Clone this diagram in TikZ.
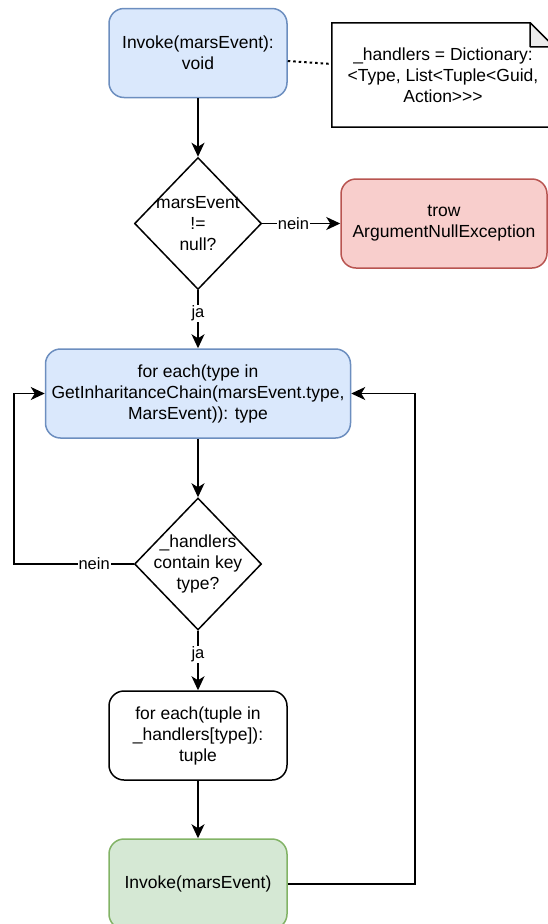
\documentclass[tikz,border=0pt]{standalone}
\usepackage{fontspec}
\setmainfont{Liberation Sans}
\usetikzlibrary{shapes.geometric,arrows.meta}

\definecolor{blueFill}{HTML}{DAE8FC}
\definecolor{blueLine}{HTML}{6C8EBF}
\definecolor{redFill}{HTML}{F8CECC}
\definecolor{redLine}{HTML}{B85450}
\definecolor{greenFill}{HTML}{D5E8D4}
\definecolor{greenLine}{HTML}{82B366}
\definecolor{foldFill}{HTML}{EBEBEB}

\tikzset{
  txt/.style={font=\fontsize{17.5}{21}\selectfont, align=center},
  procbox/.style={txt, rectangle, rounded corners=15pt, draw=black, fill=white,
                  line width=1.5pt, inner sep=0pt, minimum width=178pt, minimum height=89pt},
  bluebox/.style={procbox, draw=blueLine, fill=blueFill},
  redbox/.style={procbox, draw=redLine, fill=redFill},
  greenbox/.style={procbox, draw=greenLine, fill=greenFill},
  decision/.style={diamond, draw=black, line width=1.5pt, fill=white, inner sep=0pt,
                   minimum width=127pt, minimum height=132pt},
  flow/.style={line width=1.5pt, -{Stealth[length=14pt,width=13pt,inset=4pt]}},
  edgelbl/.style={font=\fontsize{16.5}{19}\selectfont, fill=white, inner sep=1pt},
}

\begin{document}
\begin{tikzpicture}[x=1pt,y=-1pt]
  \useasboundingbox (0,0) rectangle (548,924);

  % nodes
  \node[bluebox] (start) at (198,53) {Invoke(marsEvent):\\void};
  \node[minimum width=222pt, minimum height=104pt, inner sep=0pt] (note) at (443,75) {};
  \node[decision, label={[txt]center:marsEvent\\!=\\null?}] (d1) at (198,223.5) {};
  \node[redbox, minimum width=206pt] (err) at (444,223.5) {trow\\ArgumentNullException};
  \node[bluebox, minimum width=305pt] (loop) at (198,393.5)
    {for each(type in\\GetInharitanceChain(marsEvent.type,\\MarsEvent)): type};
  \node[decision, label={[txt]center:\_handlers\\contain key\\type?}] (d2) at (198,564) {};
  \node[procbox] (inner) at (198,735.5) {for each(tuple in\\\_handlers[type]):\\tuple};
  \node[greenbox, minimum height=90pt] (act) at (198,884) {Invoke(marsEvent)};

  % note outline with folded corner (shifts are in page direction: negative = down)
  \draw[line width=1.5pt, fill=white]
    (note.north west) -- ([xshift=-24pt]note.north east) -- ([yshift=-24pt]note.north east)
    -- (note.south east) -- (note.south west) -- cycle;
  \draw[line width=1.5pt, fill=foldFill, line join=round]
    ([xshift=-24pt]note.north east) -- ([xshift=-24pt,yshift=-24pt]note.north east)
    -- ([yshift=-24pt]note.north east) -- cycle;
  \node[txt] (notetext) at (note.center) {\_handlers = Dictionary:\\<Type, List<Tuple<Guid,\\Action>{}>{}>};

  % association of the note
  \draw[line width=2pt, dash pattern=on 2.5pt off 3pt]
    ([yshift=-8pt]start.east) -- ([yshift=11pt]note.west);

  % connectors
  \draw[flow] (start) -- (d1);
  \draw[flow] (d1.east) -- node[edgelbl, pos=0.4] {nein} (err.west);
  \draw[flow] (d1.south) -- node[edgelbl, pos=0.4] {ja} (loop.north);
  \draw[flow] (loop.south) -- (d2.north);
  \draw[flow] (d2.west) -- node[edgelbl, pos=0.33] {nein} ++(-120,0) coordinate (lc)
    |- (loop.west);
  \draw[flow] (d2.south) -- node[edgelbl, pos=0.4] {ja} (inner.north);
  \draw[flow] (inner.south) -- (act.north);
  \draw[flow] (act.east) -- ++(127,0) coordinate (rc) |- (loop.east);
\end{tikzpicture}
\end{document}
